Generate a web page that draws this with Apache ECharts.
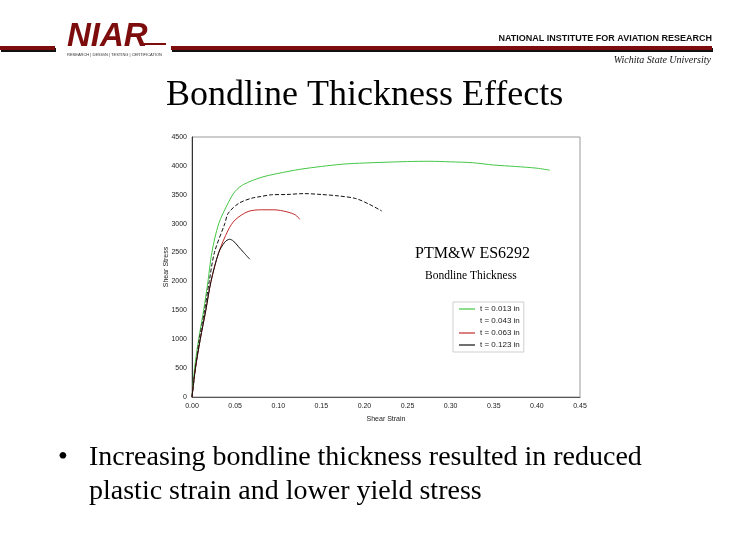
<!DOCTYPE html>
<html>
<head>
<meta charset="utf-8">
<script src="https://cdn.jsdelivr.net/npm/echarts@6/dist/echarts.min.js"></script>
<style>
html,body{margin:0;padding:0;background:#fff;}
#c{width:730px;height:552px;}
</style>
</head>
<body>
<div id="c"></div>
<script>
// Series data: [shear strain, shear stress]
const seriesNames = ['t = 0.013 in', 't = 0.043 in', 't = 0.063 in', 't = 0.123 in'];
const t013 = [[0,0],[0.003,500],[0.0077,1000],[0.0135,1500],[0.0185,2000],[0.023,2500],[0.031,3000],[0.042,3360],[0.05,3560],[0.06,3680],[0.08,3800],[0.10,3870],[0.125,3940],[0.15,3990],[0.175,4030],[0.20,4050],[0.25,4075],[0.275,4080],[0.30,4070],[0.325,4055],[0.35,4015],[0.375,3990],[0.40,3960],[0.415,3925]];
const t043 = [[0,0],[0.004,500],[0.0085,1000],[0.0146,1500],[0.02,2000],[0.026,2500],[0.038,3000],[0.042,3180],[0.054,3350],[0.069,3440],[0.08,3470],[0.092,3500],[0.11,3505],[0.13,3520],[0.15,3505],[0.17,3480],[0.19,3435],[0.205,3340],[0.22,3220]];
const t063 = [[0,0],[0.004,500],[0.0096,1000],[0.016,1500],[0.022,2000],[0.031,2500],[0.042,2890],[0.05,3065],[0.065,3210],[0.081,3240],[0.095,3240],[0.11,3205],[0.12,3150],[0.125,3075]];
const t123 = [[0,0],[0.004,500],[0.0096,1000],[0.016,1500],[0.022,2000],[0.031,2500],[0.038,2680],[0.0435,2730],[0.048,2700],[0.054,2600],[0.06,2500],[0.067,2385]];
const xTicks = {min:0, max:0.45, interval:0.05};
const yTicks = {min:0, max:4500, interval:500};

const chart = echarts.init(document.getElementById('c'), null, {renderer:'canvas'});
const sans = 'Liberation Sans, Arial, sans-serif';
const colors = ['#44c744','#111111','#c42a2a','#111111'];
const dataSets = [t013, t043, t063, t123];

chart.setOption({
  animation:false,
  backgroundColor:'#fff',
  grid:{left:192, right:150, top:137, bottom:155, show:true, borderColor:'#9a9a9a', borderWidth:1},
  legend:{
    orient:'vertical', left:453, top:302, padding:[3,4,3,6],
    borderColor:'#cfcfcf', borderWidth:1, backgroundColor:'#fff',
    icon:'rect', itemWidth:16, itemHeight:1.2, itemGap:4,
    textStyle:{fontSize:8, fontFamily:sans, color:'#222'},
    data: seriesNames.map((n,i)=> i===1 ? {name:n, itemStyle:{opacity:0}} : {name:n})
  },
  xAxis:{
    type:'value', min:xTicks.min, max:xTicks.max, interval:xTicks.interval,
    name:'Shear Strain', nameLocation:'middle', nameGap:19,
    nameTextStyle:{fontSize:7, fontFamily:sans, color:'#222'},
    axisLine:{show:true, lineStyle:{color:'#555'}},
    axisTick:{show:false},
    splitLine:{show:false},
    axisLabel:{fontSize:7, fontFamily:sans, color:'#222', margin:6, formatter:v=>v.toFixed(2)}
  },
  yAxis:{
    type:'value', min:yTicks.min, max:yTicks.max, interval:yTicks.interval,
    axisLine:{show:true, lineStyle:{color:'#333'}},
    axisTick:{show:false},
    splitLine:{show:false},
    axisLabel:{fontSize:7, fontFamily:sans, color:'#222', margin:5, formatter:v=>String(v)}
  },
  series: dataSets.map((d,i)=>({
    name:seriesNames[i], type:'line', data:d, symbol:'none', smooth:0.3,
    lineStyle:{color:colors[i], width:1, type: i===1 ? [4,2] : 'solid'},
    itemStyle:{color:colors[i]}
  })),
  graphic:[
    // header bars
    {type:'rect', shape:{x:1,y:48,width:55,height:4}, style:{fill:'#111'}},
    {type:'rect', shape:{x:0,y:46,width:55,height:4}, style:{fill:'#7d0c0c'}},
    {type:'rect', shape:{x:172,y:48,width:541,height:4}, style:{fill:'#111'}},
    {type:'rect', shape:{x:171,y:46,width:541,height:4}, style:{fill:'#7d0c0c'}},
    // logo
    {type:'text', left:67, top:20, style:{text:'NIAR', font:'italic bold 33px Liberation Sans, Arial, sans-serif', fill:'#7d0c0c'}},
    {type:'rect', shape:{x:140,y:43,width:26,height:2}, style:{fill:'#7d0c0c'}},
    {type:'text', left:67, top:53, style:{text:'RESEARCH | DESIGN | TESTING | CERTIFICATION', font:'4px Liberation Sans, Arial, sans-serif', fill:'#333'}},
    {type:'text', right:18, top:34, style:{text:'NATIONAL INSTITUTE FOR AVIATION RESEARCH', font:'bold 9px Liberation Sans, Arial, sans-serif', fill:'#111'}},
    {type:'text', right:19, top:55, style:{text:'Wichita State University', font:'italic 10px Liberation Serif, Times New Roman, serif', fill:'#111'}},
    // title
    {type:'text', left:166, top:78, style:{text:'Bondline Thickness Effects', font:'36px Liberation Serif, Times New Roman, serif', fill:'#000'}},
    // y axis title
    {type:'text', x:166, y:267, rotation:Math.PI/2, style:{text:'Shear Stress', align:'center', verticalAlign:'middle', font:'7px Liberation Sans, Arial, sans-serif', fill:'#222'}},
    // annotations
    {type:'text', left:415, top:246, style:{text:'PTM&W ES6292', font:'16px Liberation Serif, Times New Roman, serif', fill:'#000'}},
    {type:'text', left:425, top:270, style:{text:'Bondline Thickness', font:'11.5px Liberation Serif, Times New Roman, serif', fill:'#000'}},
    // bullet text
    {type:'text', left:58, top:444, style:{text:'•', font:'28px Liberation Serif, Times New Roman, serif', fill:'#000'}},
    {type:'text', left:89, top:444, style:{text:'Increasing bondline thickness resulted in reduced', font:'28px Liberation Serif, Times New Roman, serif', fill:'#000'}},
    {type:'text', left:89, top:478, style:{text:'plastic strain and lower yield stress', font:'28px Liberation Serif, Times New Roman, serif', fill:'#000'}}
  ]
});
</script>
</body>
</html>
